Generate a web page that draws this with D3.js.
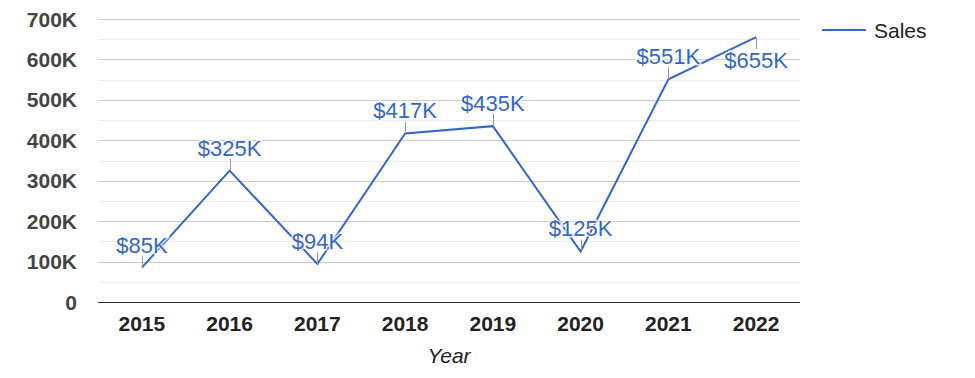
<!DOCTYPE html>
<html>
<head>
<meta charset="utf-8">
<script src="https://cdn.jsdelivr.net/npm/d3@7"></script>
<style>
  body { margin: 0; background: #fff; }
  text { font-family: "Liberation Sans", Arial, sans-serif; }
</style>
</head>
<body>
<svg id="chart" width="975" height="378"></svg>
<script>
const years = ['2015', '2016', '2017', '2018', '2019', '2020', '2021', '2022'];
const sales = [85000, 325000, 94000, 417000, 435000, 125000, 551000, 655000];
const salesLabels = ['$85K', '$325K', '$94K', '$417K', '$435K', '$125K', '$551K', '$655K'];
const yTicks = [0, 100000, 200000, 300000, 400000, 500000, 600000, 700000];

const data = years.map((y, i) => ({ year: y, value: sales[i], label: salesLabels[i] }));

const svg = d3.select('#chart');
const plotLeft = 98, plotRight = 800, plotTop = 19, plotBottom = 302;
const blue = '#3366cc';
const labelSize = 22;

const xScale = d3.scaleBand().domain(years).range([plotLeft, plotRight]);
const yScale = d3.scaleLinear().domain([0, 700000]).range([plotBottom, plotTop]);

// minor gridlines
svg.append('g').selectAll('line')
  .data(d3.range(50000, 700000, 100000))
  .enter().append('line')
  .attr('x1', plotLeft).attr('x2', plotRight)
  .attr('y1', d => Math.round(yScale(d)) + 0.5).attr('y2', d => Math.round(yScale(d)) + 0.5)
  .attr('stroke', '#ebebeb');

// major gridlines
svg.append('g').selectAll('line')
  .data(yTicks.slice(1))
  .enter().append('line')
  .attr('x1', plotLeft).attr('x2', plotRight)
  .attr('y1', d => Math.round(yScale(d)) + 0.5).attr('y2', d => Math.round(yScale(d)) + 0.5)
  .attr('stroke', '#cccccc');

// y labels
svg.append('g').selectAll('text')
  .data(yTicks)
  .enter().append('text')
  .attr('x', 77)
  .attr('y', d => yScale(d))
  .attr('dy', '0.36em')
  .attr('text-anchor', 'end')
  .attr('font-size', 21)
  .attr('font-weight', 'bold')
  .attr('fill', '#444')
  .text(d => d === 0 ? '0' : (d / 1000) + 'K');

// x labels
svg.append('g').selectAll('text')
  .data(years)
  .enter().append('text')
  .attr('x', d => xScale(d) + xScale.bandwidth() / 2)
  .attr('y', 331)
  .attr('text-anchor', 'middle')
  .attr('font-size', 21)
  .attr('font-weight', 'bold')
  .attr('fill', '#222')
  .text(d => d);

svg.append('text')
  .attr('x', (plotLeft + plotRight) / 2)
  .attr('y', 363)
  .attr('text-anchor', 'middle')
  .attr('font-size', 21)
  .attr('font-style', 'italic')
  .attr('fill', '#222')
  .text('Year');

// baseline
svg.append('line')
  .attr('x1', plotLeft).attr('x2', plotRight)
  .attr('y1', plotBottom + 0.5).attr('y2', plotBottom + 0.5)
  .attr('stroke', '#333');

const cx = d => xScale(d.year) + xScale.bandwidth() / 2;
const cy = d => yScale(d.value);
// annotation goes below the point when there is no room above
const below = d => cy(d) - 16 - labelSize < 0;

const line = d3.line().x(cx).y(cy);

svg.append('path')
  .datum(data)
  .attr('d', line)
  .attr('fill', 'none')
  .attr('stroke', blue)
  .attr('stroke-width', 2);

// annotation stems
svg.append('g').selectAll('line')
  .data(data)
  .enter().append('line')
  .attr('x1', d => Math.round(cx(d)) + 0.5).attr('x2', d => Math.round(cx(d)) + 0.5)
  .attr('y1', cy).attr('y2', d => below(d) ? cy(d) + 12 : cy(d) - 12)
  .attr('stroke', '#999');

// annotation labels
svg.append('g').selectAll('text')
  .data(data)
  .enter().append('text')
  .attr('x', cx)
  .attr('y', d => below(d) ? cy(d) + 14 + labelSize * 0.75 : cy(d) - 15)
  .attr('text-anchor', 'middle')
  .attr('font-size', labelSize)
  .attr('fill', blue)
  .attr('stroke', '#fff')
  .attr('stroke-width', 3)
  .attr('stroke-opacity', 0.8)
  .attr('paint-order', 'stroke')
  .text(d => d.label);

// legend
svg.append('line')
  .attr('x1', 822).attr('x2', 866)
  .attr('y1', 30).attr('y2', 30)
  .attr('stroke', blue)
  .attr('stroke-width', 2);

svg.append('text')
  .attr('x', 874)
  .attr('y', 30)
  .attr('dy', '0.36em')
  .attr('font-size', 21)
  .attr('fill', '#222')
  .text('Sales');
</script>
</body>
</html>
